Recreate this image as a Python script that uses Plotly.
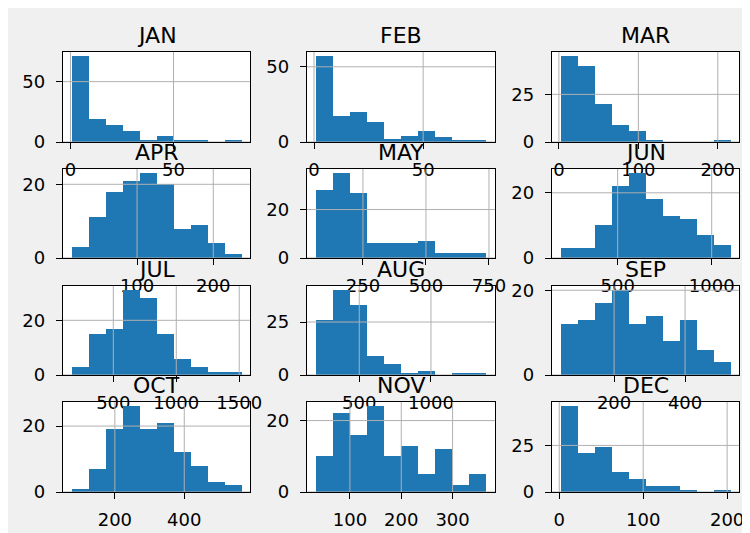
import numpy as np
import plotly.graph_objects as go

months = ["JAN", "FEB", "MAR", "APR", "MAY", "JUN",
          "JUL", "AUG", "SEP", "OCT", "NOV", "DEC"]

# histogram counts (10 bins each)
jan = [71, 19, 14, 9, 2, 5, 1, 1, 0, 1]
feb = [57, 17, 20, 13, 2, 4, 7, 3, 1, 1]
mar = [45, 40, 20, 9, 6, 1, 0, 0, 0, 1]
apr = [3, 11, 18, 21, 23, 20, 8, 9, 4, 1]
may = [28, 35, 27, 6, 6, 6, 7, 2, 2, 2]
jun = [3, 3, 10, 22, 26, 18, 13, 12, 7, 4]
jul = [3, 15, 17, 31, 28, 15, 6, 3, 1, 1]
aug = [26, 40, 33, 9, 5, 1, 2, 0, 1, 1]
sep = [12, 13, 17, 20, 12, 14, 8, 13, 6, 3]
oct_ = [1, 7, 19, 26, 19, 21, 12, 8, 3, 2]
nov = [10, 22, 16, 24, 10, 13, 5, 12, 2, 5]
dec = [46, 21, 24, 11, 7, 3, 3, 1, 0, 1]
counts = [jan, feb, mar, apr, may, jun, jul, aug, sep, oct_, nov, dec]

# data min / max of each month (bin range)
bin_lo = [0.5, 0.7, 2, 14, 62, 196, 168, 195, 49, 75, 33, 1.5]
bin_hi = [83, 79, 216, 237, 740, 1100, 1518, 1387, 528, 565, 366, 204]

# tick values
x_ticks = [[0, 50], [0, 50], [0, 100, 200], [100, 200], [250, 500, 750],
           [500, 1000], [500, 1000, 1500], [500, 1000], [200, 400],
           [200, 400], [100, 200, 300], [0, 100, 200]]
y_ticks = [[0, 50], [0, 50], [0, 25], [0, 20], [0, 20], [0, 20],
           [0, 20], [0, 25], [0, 20], [0, 20], [0, 20], [0, 25]]

# page body margin (8px) offsets the figure
OFF = 8
W = 750 - OFF
H = 533 - OFF
col_px = [(63, 250), (307, 495), (552, 739)]
row_px = [(52, 142), (169, 258), (286, 375), (402, 492)]


def fx(p):
    return (p - OFF) / W


def fy(p):
    return 1 - (p - OFF) / H


FONT = "DejaVu Sans"
BLUE = "#1f77b4"
GRID = "#b0b0b0"

fig = go.Figure()
layout = dict(
    template="none",
    width=W, height=H,
    margin=dict(l=0, r=0, t=0, b=0, autoexpand=False),
    paper_bgcolor="#f0f0f0",
    plot_bgcolor="white",
    showlegend=False,
    bargap=0,
    barmode="overlay",
    font=dict(family=FONT, color="black"),
)
annotations = []
shapes = []

for i, m in enumerate(months):
    r, c = divmod(i, 3)
    n = "" if i == 0 else str(i + 1)
    lo, hi = bin_lo[i], bin_hi[i]
    edges = np.linspace(lo, hi, len(counts[i]) + 1)
    centers = (edges[:-1] + edges[1:]) / 2
    bw = edges[1] - edges[0]
    fig.add_trace(go.Bar(
        x=centers, y=counts[i], width=bw,
        marker=dict(color=BLUE, line=dict(width=0)),
        xaxis="x" + n, yaxis="y" + n, hoverinfo="skip",
    ))
    span = hi - lo
    xr = [lo - 0.05 * span, hi + 0.05 * span]
    yr = [0, max(counts[i]) * 1.05]
    xd = [fx(col_px[c][0]), fx(col_px[c][1])]
    yd = [fy(row_px[r][1]), fy(row_px[r][0])]
    common = dict(
        showline=True, mirror=True, linecolor="black", linewidth=1.3,
        ticks="outside", ticklen=6, tickwidth=1.3, tickcolor="black",
        tickfont=dict(family=FONT, size=18, color="black"),
        showgrid=False, zeroline=False, automargin=False,
    )
    layout["xaxis" + n] = dict(domain=xd, range=xr, anchor="y" + n,
                               tickmode="array", tickvals=x_ticks[i],
                               ticklabelstandoff=5, **common)
    layout["yaxis" + n] = dict(domain=yd, range=yr, anchor="x" + n,
                               tickmode="array", tickvals=y_ticks[i],
                               ticklabelstandoff=7, **common)
    # grid lines drawn above bars (matplotlib style)
    for t in x_ticks[i]:
        shapes.append(dict(type="line", xref="x" + n, yref="y" + n + " domain",
                           x0=t, x1=t, y0=0, y1=1, layer="above",
                           line=dict(color=GRID, width=1)))
    for t in y_ticks[i]:
        shapes.append(dict(type="line", xref="x" + n + " domain", yref="y" + n,
                           x0=0, x1=1, y0=t, y1=t, layer="above",
                           line=dict(color=GRID, width=1)))
    annotations.append(dict(
        text=m, xref="paper", yref="paper",
        x=(xd[0] + xd[1]) / 2, y=yd[1], xanchor="center", yanchor="bottom",
        yshift=2, showarrow=False,
        font=dict(family=FONT, size=22, color="black"),
    ))

layout["annotations"] = annotations
layout["shapes"] = shapes
fig.update_layout(**layout)
fig.write_html("out.html")
